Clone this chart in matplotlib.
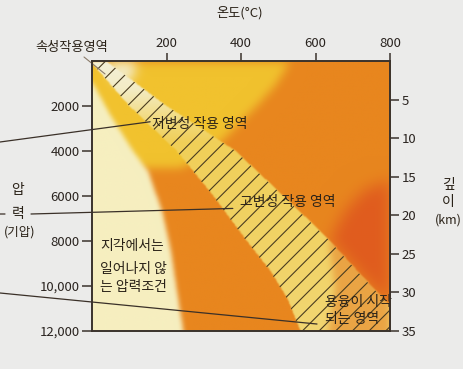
import numpy as np
import matplotlib
matplotlib.use("Agg")
import matplotlib.pyplot as plt
from matplotlib.path import Path
from matplotlib.patches import Polygon
from matplotlib.colors import to_rgb

plt.rcParams['font.family'] = ['Noto Sans CJK KR', 'DejaVu Sans']
plt.rcParams['hatch.linewidth'] = 0.8

# ---------------- data ----------------
temp_ticks = [200, 400, 600, 800]
pressure_ticks = [2000, 4000, 6000, 8000, 10000, 12000]
pressure_labels = ["2000", "4000", "6000", "8000", "10,000", "12,000"]
depth_ticks = [5, 10, 15, 20, 25, 30, 35]

# metamorphic band (hatched) edges: temperature (°C), pressure (bar)
band_lower_T = [0, 97, 226, 322, 411, 478, 524, 558]
band_lower_P = [89, 1948, 3985, 5934, 7926, 9343, 10583, 12000]
band_upper_T = [38, 196, 384, 523, 634, 719, 800]
band_upper_P = [0, 1948, 3985, 6155, 7926, 9476, 10893]
# right edge of the band proper (melting corner to its right)
melt_T = [634, 652, 634]
melt_P = [7926, 10140, 12000]

# background colour regions
pale_T = [0, 48, 107, 150, 188, 210, 226, 244]
pale_P = [930, 2391, 3941, 4915, 6731, 8369, 10140, 12000]
yellow_T = [531, 491, 443, 397, 349, 300, 240]
yellow_P = [0, 1063, 1948, 2701, 3498, 4200, 4740]
blob_T = [37, 118, 112, 85, 58]
blob_P = [0, 0, 650, 1050, 900]
red_T = [800, 733, 680, 645, 634, 719, 800]
red_P = [5270, 5713, 6598, 7705, 7926, 9476, 10893]

# ---------------- figure ----------------
fig = plt.figure(figsize=(4.63, 3.69), dpi=100, facecolor='#ebebea')
ax = fig.add_axes([92/463, 1-331/369, 298/463, 270/369])
ax.set_xlim(0, 800)
ax.set_ylim(12000, 0)

nx, ny = 320, 290
Tg = np.linspace(0, 800, nx)
Pg = np.linspace(0, 12000, ny)
TT, PP = np.meshgrid(Tg, Pg)
pts = np.column_stack([TT.ravel(), PP.ravel()])


def mask_of(verts):
    return Path(verts).contains_points(pts).reshape(ny, nx).astype(float)


def blur(a, s):
    if s <= 0:
        return a
    r = int(3 * s) + 1
    k = np.exp(-0.5 * (np.arange(-r, r + 1) / s) ** 2)
    k /= k.sum()
    pad = np.pad(a, r, mode='edge')
    tmp = np.apply_along_axis(lambda v: np.convolve(v, k, mode='valid'), 1, pad)
    out = np.apply_along_axis(lambda v: np.convolve(v, k, mode='valid'), 0, tmp)
    return out


img = np.ones((ny, nx, 3)) * np.array(to_rgb('#e8861e'))


def paint(img, verts, color, s):
    m = blur(mask_of(verts), s)[..., None]
    return img * (1 - m) + np.array(to_rgb(color)) * m


yellow_poly = [(0, 0)] + list(zip(yellow_T, yellow_P)) + [(0, 4740)]
img = paint(img, yellow_poly, '#f1c22e', 5)
pale_poly = list(zip(pale_T, pale_P)) + [(0, 12000)]
img = paint(img, pale_poly, '#f6efc0', 2.5)
img = paint(img, list(zip(blob_T, blob_P)), '#f3ecca', 6)
img = paint(img, list(zip(red_T, red_P)), '#e05c1e', 8)

# band fill
band_poly = list(zip(band_lower_T, band_lower_P)) + [(800, 12000)] + \
    list(zip(band_upper_T, band_upper_P))[::-1] + [(0, 0)]
stops_P = [0, 1200, 2400, 3600, 12000]
stops_c = np.array([to_rgb(c) for c in ['#f4f0d8', '#f3ecc6', '#f2dd88', '#f0cf58', '#f2d672']])
band_col = np.stack([np.interp(PP, stops_P, stops_c[:, i]) for i in range(3)], axis=-1)
corner_poly = list(zip(melt_T, melt_P)) + [(800, 12000), (800, 7000)]
cm = blur(mask_of(corner_poly), 4)[..., None]
band_col = band_col * (1 - cm) + np.array(to_rgb('#eaa444')) * cm
bm = blur(mask_of(band_poly), 0.7)[..., None]
img = img * (1 - bm) + band_col * bm

ax.imshow(img, extent=[0, 800, 12000, 0], aspect='auto', interpolation='bilinear', zorder=0)
ax.add_patch(Polygon(band_poly, closed=True, fill=False, hatch='//',
                     edgecolor='#4a3c20', lw=0, zorder=2))

# axes styling
spc = '#3a322c'
for sp in ax.spines.values():
    sp.set_color(spc)
    sp.set_linewidth(1.2)
ax.xaxis.tick_top()
ax.set_xticks(temp_ticks)
ax.set_xticklabels([str(t) for t in temp_ticks])
ax.tick_params(axis='x', direction='out', length=6, width=1.1, color=spc,
               labelsize=9.5, pad=2, labelcolor='#2a2420')
ax.set_yticks(pressure_ticks)
ax.set_yticklabels(pressure_labels)
ax.tick_params(axis='y', direction='out', length=7, width=1.1, color=spc,
               labelsize=9.5, pad=2, labelcolor='#2a2420')
ax2 = ax.twinx()
ax2.set_ylim(35, 0)
ax2.set_yticks(depth_ticks)
ax2.set_yticklabels([str(d) for d in depth_ticks])
ax2.tick_params(axis='y', direction='out', length=6.5, width=1.1, color=spc,
                labelsize=9.5, pad=2, labelcolor='#2a2420')
for sp in ax2.spines.values():
    sp.set_color(spc)
    sp.set_linewidth(1.2)

tc = '#2a2218'
fs = 9.5
fk = 10


def F(x, y):
    return (x / 463, 1 - y / 369)


fig.text(*F(240, 13), "온도(°C)", ha='center', va='center', fontsize=fs, color=tc)
fig.text(*F(72, 47), "속성작용영역", ha='center', va='center', fontsize=fs, color=tc)
fig.text(*F(18, 190), "압", ha='center', va='center', fontsize=fk, color=tc)
fig.text(*F(18, 214), "력", ha='center', va='center', fontsize=fk, color=tc)
fig.text(*F(20, 232), "(기압)", ha='center', va='center', fontsize=fs - 0.5, color=tc)
fig.text(*F(448, 185), "깊", ha='center', va='center', fontsize=fk, color=tc)
fig.text(*F(448, 202), "이", ha='center', va='center', fontsize=fk, color=tc)
fig.text(*F(448, 220), "(km)", ha='center', va='center', fontsize=fs - 0.5, color=tc)

# labels inside
ax.text(290, 2790, "저변성 작용 영역", ha='center', va='center', fontsize=fk, color=tc, zorder=5)
ax.text(526, 6288, "고변성 작용 영역", ha='center', va='center', fontsize=fk, color=tc, zorder=5)
for txt, p in [("지각에서는", 8236), ("일어나지 않", 9254), ("는 압력조건", 10052)]:
    ax.text(21, p, txt, ha='left', va='center', fontsize=fk, color=tc, zorder=5)
for txt, p in [("용융이 시작", 10716), ("되는 영역", 11469)]:
    ax.text(625, p, txt, ha='left', va='center', fontsize=fk, color=tc, zorder=5)

# leader lines
lc = '#3a3028'
arrow = dict(arrowstyle='-', color=lc, lw=0.9, shrinkA=0, shrinkB=0)
ax.annotate('', xy=(35, 576), xycoords='data', xytext=F(84, 57),
            textcoords='figure fraction', arrowprops=dict(arrowstyle='-', color='#8a7a6a', lw=0.8, shrinkA=0, shrinkB=0),
            annotation_clip=False, zorder=6)
ax.annotate('', xy=(156, 2701), xycoords='data', xytext=F(0, 142),
            textcoords='figure fraction', arrowprops=arrow, annotation_clip=False, zorder=6)
ax.annotate('', xy=(378, 6553), xycoords='data', xytext=F(31, 214),
            textcoords='figure fraction', arrowprops=arrow, annotation_clip=False, zorder=6)
ax.annotate('', xy=(F(5, 214)), xycoords='figure fraction', xytext=F(0, 214),
            textcoords='figure fraction', arrowprops=arrow, annotation_clip=False, zorder=6)
ax.annotate('', xy=(604, 11690), xycoords='data', xytext=F(0, 293),
            textcoords='figure fraction', arrowprops=arrow, annotation_clip=False, zorder=6)

fig.savefig('out.png', dpi=100, facecolor=fig.get_facecolor())
